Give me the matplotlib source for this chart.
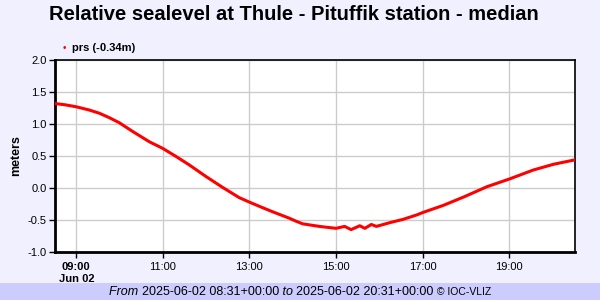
import matplotlib
matplotlib.use('Agg')
import matplotlib.pyplot as plt
import numpy as np
import pandas as pd

plt.rcParams['font.family'] = ['Liberation Sans', 'DejaVu Sans']

# --- data ---
day = '2025-06-02'
times = ['08:31', '08:45', '09:00', '09:18', '09:32', '09:46', '10:00', '10:19',
         '10:42', '11:00', '11:19', '11:37', '12:00', '12:23', '12:46', '13:00',
         '13:19', '13:32', '13:55', '14:05', '14:14', '14:37', '15:00', '15:12',
         '15:21', '15:33', '15:40', '15:49', '15:56', '16:15', '16:33', '16:52',
         '17:01', '17:29', '17:57', '18:29', '19:00', '19:33', '20:01', '20:31']
prs = [1.32, 1.30, 1.27, 1.22, 1.17, 1.10, 1.02, 0.88,
       0.72, 0.62, 0.49, 0.36, 0.18, 0.01, -0.15, -0.22,
       -0.31, -0.37, -0.47, -0.52, -0.56, -0.60, -0.63, -0.60,
       -0.65, -0.59, -0.63, -0.57, -0.60, -0.54, -0.49, -0.42,
       -0.38, -0.27, -0.14, 0.02, 0.14, 0.28, 0.37, 0.44]
series_label = 'prs (-0.34m)'
title = 'Relative sealevel at Thule - Pituffik station - median'
t_start = '2025-06-02 08:31+00:00'
t_end = '2025-06-02 20:31+00:00'

t = pd.to_datetime([f'{day} {s}' for s in times])

bg = '#F0F0FF'
fig = plt.figure(figsize=(6, 3), dpi=100, facecolor=bg)
ax = fig.add_axes([55/600, 1 - 252/300, 520/600, 192/300])
ax.set_facecolor('white')

ax.plot(t, prs, color='#FF0000', linewidth=2.2, solid_joinstyle='round', zorder=3)

ax.set_xlim(pd.Timestamp(f'{day} 08:31'), pd.Timestamp(f'{day} 20:31'))
ax.set_ylim(-1.0, 2.0)
ax.set_yticks(np.arange(-1.0, 2.01, 0.5))
ax.yaxis.set_major_formatter(matplotlib.ticker.FormatStrFormatter('%.1f'))

xt = pd.to_datetime([f'{day} {h:02d}:00' for h in range(9, 21, 2)])
ax.set_xticks(xt)
ax.set_xticklabels([d.strftime('%H:%M') for d in xt])
ax.get_xticklabels()[0].set_fontweight('bold')

ax.grid(True, color='#CCCCCC', linewidth=1.0, zorder=0)
ax.set_axisbelow(True)
ax.tick_params(axis='both', labelsize=8, length=4, width=1, color='black', pad=2)
ax.tick_params(axis='x', pad=3)
for s in ['left', 'bottom']:
    ax.spines[s].set_linewidth(2)
for s in ['top', 'right']:
    ax.spines[s].set_linewidth(1.2)

ax.set_ylabel('meters', fontsize=9, fontweight='bold', labelpad=4)

fig.text(77/600, 1 - 279/300, 'Jun 02', ha='center', va='center', fontsize=8, fontweight='bold')

fig.text(0.49, 1 - 15/300, title, ha='center', va='center', fontsize=14.5, fontweight='bold')

# legend
fig.text(64/600, 1 - 48/300, '\u2022', ha='center', va='center', fontsize=7, color='#FF0000')
fig.text(72/600, 1 - 48/300, series_label, ha='left', va='center', fontsize=8, fontweight='bold')

# footer band
fig.patches.append(matplotlib.patches.Rectangle((0, 0), 1, 17/300, transform=fig.transFigure,
                                                facecolor='#CCCCFF', edgecolor='none', zorder=0))
parts = [('From ', 'italic', 9), (t_start, 'normal', 9), (' to ', 'italic', 9),
         (t_end, 'normal', 9), (' \u00a9 IOC-VLIZ', 'normal', 7.5)]
fig.canvas.draw()
r = fig.canvas.get_renderer()
texts = []
for s, style, fs in parts:
    tx = fig.text(0, 8/300, s, ha='left', va='center', fontsize=fs, style=style)
    texts.append(tx)
widths = [tx.get_window_extent(r).width for tx in texts]
x0 = (fig.bbox.width - sum(widths)) / 2
for tx, w in zip(texts, widths):
    tx.set_x(x0 / fig.bbox.width)
    x0 += w

fig.savefig('out.png', dpi=100, facecolor=bg)
